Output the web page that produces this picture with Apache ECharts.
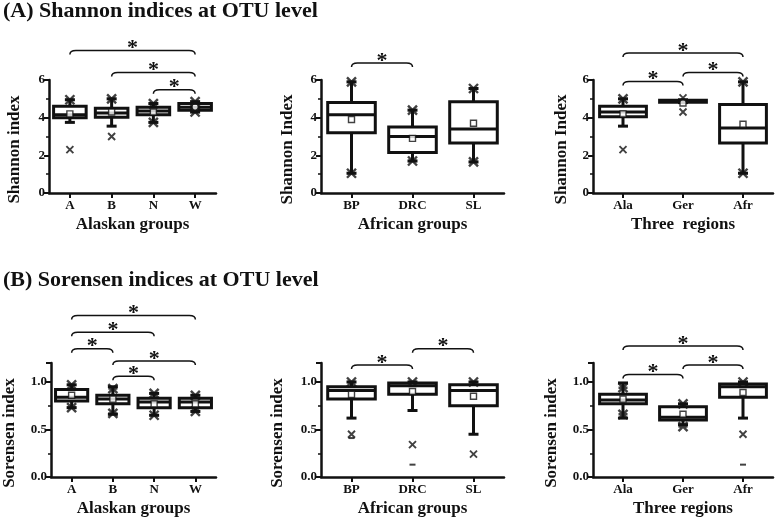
<!DOCTYPE html>
<html><head><meta charset="utf-8">
<script src="https://cdn.jsdelivr.net/npm/echarts@6/dist/echarts.min.js"></script>
<style>html,body{margin:0;padding:0;background:#fff}#c{width:778px;height:520px}</style>
</head><body><div id="c"></div>
<script>
// ---------- categories ----------
const alaskanCats = ['A', 'B', 'N', 'W'];
const africanCats = ['BP', 'DRC', 'SL'];
const regionCats = ['Ala', 'Ger', 'Afr'];

// ---------- boxes: [min whisker, Q1, median, Q3, max whisker] ----------
const shAlaskanBoxes = [[3.75, 4.0, 4.15, 4.6, 4.95], [3.55, 4.02, 4.25, 4.5, 5.0], [3.75, 4.15, 4.35, 4.55, 4.75], [4.3, 4.4, 4.55, 4.75, 4.85]];
const shAfricanBoxes = [[1.05, 3.2, 4.15, 4.8, 5.9], [1.7, 2.15, 3.0, 3.5, 4.4], [1.65, 2.65, 3.4, 4.85, 5.55]];
const shRegionBoxes  = [[3.55, 4.05, 4.3, 4.6, 5.0], [4.8, 4.82, 4.87, 4.92, 4.95], [1.05, 2.65, 3.45, 4.7, 5.9]];
const soAlaskanBoxes = [[0.73, 0.8, 0.84, 0.92, 0.97], [0.66, 0.77, 0.82, 0.86, 0.95], [0.65, 0.73, 0.79, 0.83, 0.88], [0.69, 0.73, 0.79, 0.83, 0.86]];
const soAfricanBoxes = [[0.62, 0.82, 0.91, 0.95, 1.0], [0.70, 0.87, 0.96, 0.99, 1.0], [0.45, 0.75, 0.91, 0.97, 1.0]];
const soRegionBoxes  = [[0.62, 0.77, 0.81, 0.87, 0.99], [0.55, 0.60, 0.63, 0.74, 0.77], [0.62, 0.84, 0.95, 0.98, 1.0]];

// ---------- means ----------
const shAlaskanMeans = [4.2, 4.3, 4.3, 4.55];
const shAfricanMeans = [3.9, 2.9, 3.7];
const shRegionMeans  = [4.2, 4.78, 3.65];
const soAlaskanMeans = [0.86, 0.82, 0.77, 0.77];
const soAfricanMeans = [0.87, 0.9, 0.85];
const soRegionMeans  = [0.82, 0.66, 0.89];

// ---------- star markers (1%/99%) [category index, value] ----------
const shAlaskanStars = [[0, 4.95], [1, 5.0], [2, 4.75], [2, 3.75], [3, 4.85], [3, 4.3]];
const shAfricanStars = [[0, 5.9], [0, 1.05], [1, 4.4], [1, 1.7], [2, 5.55], [2, 1.65]];
const shRegionStars  = [[0, 5.0], [2, 5.9], [2, 1.05]];
const soAlaskanStars = [[0, 0.97], [0, 0.73], [1, 0.93], [1, 0.67], [2, 0.88], [2, 0.65], [3, 0.86], [3, 0.69]];
const soAfricanStars = [[0, 1.0], [1, 1.0], [2, 1.0]];
const soRegionStars  = [[0, 0.94], [0, 0.66], [1, 0.77], [1, 0.53], [2, 1.0]];

// ---------- cross markers (extremes) ----------
const shAlaskanCross = [[0, 2.3], [1, 3.0]];
const shAfricanCross = [];
const shRegionCross  = [[0, 2.3], [1, 5.05], [1, 4.3]];
const soAlaskanCross = [];
const soAfricanCross = [[0, 0.45], [1, 0.34], [2, 0.24]];
const soRegionCross  = [[2, 0.45]];

// ---------- dash markers (min) ----------
const shAlaskanDash = [];
const shAfricanDash = [];
const shRegionDash  = [];
const soAlaskanDash = [];
const soAfricanDash = [[0, 0.41], [1, 0.13]];
const soRegionDash  = [[2, 0.13]];

// ---------- significance brackets [from index, to index, height] ----------
const shAlaskanSig = [[0, 3, 7.57], [1, 3, 6.4], [2, 3, 5.48]];
const shAfricanSig = [[0, 1, 6.9]];
const shRegionSig  = [[0, 2, 7.43], [0, 1, 5.92], [1, 2, 6.4]];
const soAlaskanSig = [[0, 3, 1.70], [0, 2, 1.525], [0, 1, 1.35], [1, 3, 1.22], [1, 2, 1.06]];
const soAfricanSig = [[0, 1, 1.18], [1, 2, 1.35]];
const soRegionSig  = [[0, 2, 1.38], [0, 1, 1.08], [1, 2, 1.18]];

// ---------- axis ticks ----------
const shannonTicks = { min: 0, max: 6, interval: 2 };
const sorensenTicks = { min: 0, max: 1.2, interval: 0.5 };

const FONT = "'Liberation Serif', 'Times New Roman', serif";
const INK = '#111';

const panels = [
  { cats: alaskanCats, boxes: shAlaskanBoxes, means: shAlaskanMeans, stars: shAlaskanStars, cross: shAlaskanCross, dash: shAlaskanDash, sig: shAlaskanSig, ticks: shannonTicks, yName: 'Shannon index', xName: 'Alaskan groups', grid: { left: 49, top: 80, width: 167, height: 113 }, yGap: 26 },
  { cats: africanCats, boxes: shAfricanBoxes, means: shAfricanMeans, stars: shAfricanStars, cross: shAfricanCross, dash: shAfricanDash, sig: shAfricanSig, ticks: shannonTicks, yName: 'Shannon Index', xName: 'African groups', grid: { left: 321, top: 80, width: 183, height: 113 }, yGap: 25 },
  { cats: regionCats, boxes: shRegionBoxes, means: shRegionMeans, stars: shRegionStars, cross: shRegionCross, dash: shRegionDash, sig: shRegionSig, ticks: shannonTicks, yName: 'Shannon Index', xName: 'Three  regions', grid: { left: 593, top: 80, width: 180, height: 113 }, yGap: 23 },
  { cats: alaskanCats, boxes: soAlaskanBoxes, means: soAlaskanMeans, stars: soAlaskanStars, cross: soAlaskanCross, dash: soAlaskanDash, sig: soAlaskanSig, ticks: sorensenTicks, yName: 'Sorensen index', xName: 'Alaskan groups', grid: { left: 49, top: 363, width: 167, height: 114 }, yGap: 33 },
  { cats: africanCats, boxes: soAfricanBoxes, means: soAfricanMeans, stars: soAfricanStars, cross: soAfricanCross, dash: soAfricanDash, sig: soAfricanSig, ticks: sorensenTicks, yName: 'Sorensen index', xName: 'African groups', grid: { left: 321, top: 363, width: 183, height: 114 }, yGap: 35 },
  { cats: regionCats, boxes: soRegionBoxes, means: soRegionMeans, stars: soRegionStars, cross: soRegionCross, dash: soRegionDash, sig: soRegionSig, ticks: sorensenTicks, yName: 'Sorensen index', xName: 'Three regions', grid: { left: 593, top: 363, width: 180, height: 114 }, yGap: 33 }
];

function renderBox(params, api) {
  const i = api.value(0);
  const band = api.size([1, 0])[0];
  const w = band * 0.78;
  const cap = 10;
  const pMin = api.coord([i, api.value(1)]);
  const pQ1 = api.coord([i, api.value(2)]);
  const pMed = api.coord([i, api.value(3)]);
  const pQ3 = api.coord([i, api.value(4)]);
  const pMax = api.coord([i, api.value(5)]);
  const x = pMin[0];
  const st = { stroke: INK, lineWidth: 3, fill: null };
  return {
    type: 'group', children: [
      { type: 'line', shape: { x1: x, y1: pQ3[1], x2: x, y2: pMax[1] }, style: st },
      { type: 'line', shape: { x1: x, y1: pQ1[1], x2: x, y2: pMin[1] }, style: st },
      { type: 'line', shape: { x1: x - cap / 2, y1: pMax[1], x2: x + cap / 2, y2: pMax[1] }, style: st },
      { type: 'line', shape: { x1: x - cap / 2, y1: pMin[1], x2: x + cap / 2, y2: pMin[1] }, style: st },
      { type: 'rect', shape: { x: x - w / 2, y: pQ3[1], width: w, height: pQ1[1] - pQ3[1] }, style: { stroke: INK, lineWidth: 3, fill: '#fff' } },
      { type: 'line', shape: { x1: x - w / 2, y1: pMed[1], x2: x + w / 2, y2: pMed[1] }, style: st }
    ]
  };
}

function renderSig(params, api) {
  const a = api.coord([api.value(0), api.value(2)]);
  const b = api.coord([api.value(1), api.value(2)]);
  const y = a[1], d = 4, r = 6;
  const path = 'M' + a[0] + ',' + (y + d) + ' Q' + a[0] + ',' + y + ' ' + (a[0] + r) + ',' + y +
    ' L' + (b[0] - r) + ',' + y + ' Q' + b[0] + ',' + y + ' ' + b[0] + ',' + (y + d);
  return {
    type: 'group', children: [
      { type: 'path', shape: { pathData: path }, style: { stroke: INK, lineWidth: 1.5, fill: null } },
      { type: 'text', x: (a[0] + b[0]) / 2, y: y - 2, style: { text: '*', font: 'bold 22px ' + FONT, fill: INK, align: 'center', verticalAlign: 'middle' } }
    ]
  };
}

const STAR = 'path://M0,0L10,10M10,0L0,10M0,5L10,5';
const CROSS = 'path://M0,0L10,10M10,0L0,10';

const option = {
  animation: false,
  backgroundColor: '#fff',
  textStyle: { fontFamily: FONT },
  grid: [], xAxis: [], yAxis: [], series: [],
  graphic: [
    { type: 'text', left: 3, top: 0, style: { text: '(A) Shannon indices at OTU level', font: 'bold 22px ' + FONT, fill: INK } },
    { type: 'text', left: 3, top: 269, style: { text: '(B) Sorensen indices at OTU level', font: 'bold 22px ' + FONT, fill: INK } }
  ]
};

panels.forEach((p, k) => {
  option.grid.push(Object.assign({ containLabel: false }, p.grid));
  option.xAxis.push({
    type: 'category', gridIndex: k, data: p.cats,
    name: p.xName, nameLocation: 'middle', nameGap: 23,
    nameTextStyle: { fontFamily: FONT, fontWeight: 'bold', fontSize: 17, color: INK },
    axisLine: { show: true, lineStyle: { color: INK, width: 2.5 } },
    axisTick: { show: true, alignWithLabel: true, length: 5, lineStyle: { color: INK, width: 2 } },
    axisLabel: { fontFamily: FONT, fontWeight: 'bold', fontSize: 13, color: INK, margin: 6 },
    splitLine: { show: false }
  });
  const sor = p.ticks === sorensenTicks;
  option.yAxis.push({
    type: 'value', gridIndex: k, min: p.ticks.min, max: p.ticks.max, interval: p.ticks.interval,
    name: p.yName, nameLocation: 'middle', nameGap: p.yGap,
    nameTextStyle: { fontFamily: FONT, fontWeight: 'bold', fontSize: 17, color: INK, padding: [0, 26, 0, 0] },
    axisLine: { show: true, lineStyle: { color: INK, width: 2.5 } },
    axisTick: { show: true, length: 5, lineStyle: { color: INK, width: 2 } },
    minorTick: { show: true, splitNumber: 2, length: 3, lineStyle: { color: INK, width: 1.5 } },
    splitLine: { show: false },
    axisLabel: {
      fontFamily: FONT, fontWeight: 'bold', fontSize: 13, color: INK, margin: 4,
      showMaxLabel: !sor,
      formatter: v => sor ? v.toFixed(1) : String(v)
    }
  });
  option.series.push({
    type: 'custom', xAxisIndex: k, yAxisIndex: k, z: 2,
    data: p.boxes.map((b, i) => [i].concat(b)),
    encode: { x: 0, y: [1, 2, 3, 4, 5] },
    renderItem: renderBox, silent: true
  });
  option.series.push({
    type: 'custom', xAxisIndex: k, yAxisIndex: k, z: 2, clip: false,
    data: p.sig, encode: { x: [0, 1], y: 2 },
    renderItem: renderSig, silent: true
  });
  option.series.push({
    type: 'scatter', xAxisIndex: k, yAxisIndex: k, z: 4, silent: true,
    data: p.means.map((m, i) => [i, m]),
    symbol: 'rect', symbolSize: 6,
    itemStyle: { color: '#fff', borderColor: INK, borderWidth: 1.4 }
  });
  option.series.push({
    type: 'scatter', xAxisIndex: k, yAxisIndex: k, z: 4, silent: true,
    data: p.stars, symbol: STAR, symbolSize: 9,
    itemStyle: { color: 'none', borderColor: INK, borderWidth: 2.4 }
  });
  option.series.push({
    type: 'scatter', xAxisIndex: k, yAxisIndex: k, z: 4, silent: true,
    data: p.cross, symbol: CROSS, symbolSize: 7,
    itemStyle: { color: 'none', borderColor: INK, borderWidth: 1.9 }
  });
  option.series.push({
    type: 'scatter', xAxisIndex: k, yAxisIndex: k, z: 4, silent: true,
    data: p.dash, symbol: 'rect', symbolSize: [6, 2],
    itemStyle: { color: INK }
  });
});

const chart = echarts.init(document.getElementById('c'), null, { renderer: 'canvas' });
chart.setOption(option);
</script>
</body></html>
